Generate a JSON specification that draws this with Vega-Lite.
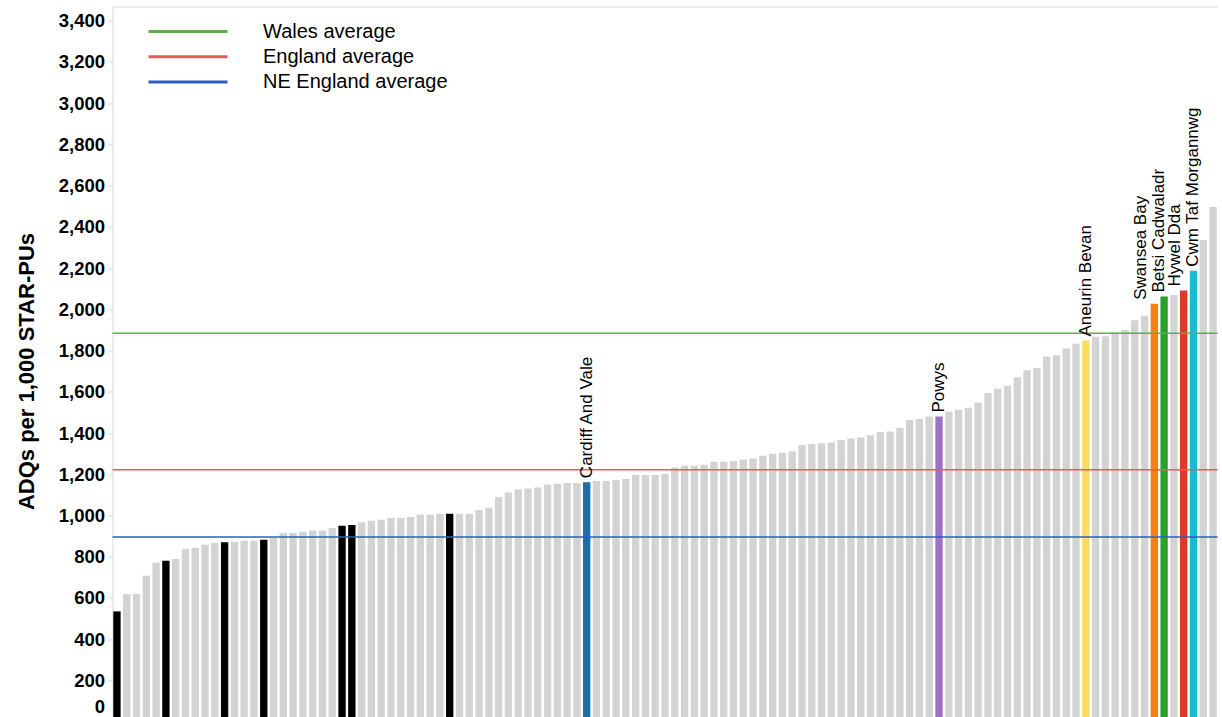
{
  "$schema": "https://vega.github.io/schema/vega-lite/v6.json",
  "width": 1105,
  "height": 715.2,
  "autosize": "none",
  "padding": {"left": 112.5, "top": 6.5, "right": 4.5, "bottom": -4.7},
  "background": "white",
  "config": {"view": {"stroke": null}, "font": "Liberation Sans"},
  "datasets": {
    "bars": [
      {"rank": 1, "name": "NE England CCG", "group": "NE England", "adq": 535},
      {"rank": 2, "name": "CCG", "group": "England", "adq": 619},
      {"rank": 3, "name": "CCG", "group": "England", "adq": 619},
      {"rank": 4, "name": "CCG", "group": "England", "adq": 708},
      {"rank": 5, "name": "CCG", "group": "England", "adq": 771},
      {"rank": 6, "name": "NE England CCG", "group": "NE England", "adq": 781},
      {"rank": 7, "name": "CCG", "group": "England", "adq": 789},
      {"rank": 8, "name": "CCG", "group": "England", "adq": 839},
      {"rank": 9, "name": "CCG", "group": "England", "adq": 844},
      {"rank": 10, "name": "CCG", "group": "England", "adq": 858},
      {"rank": 11, "name": "CCG", "group": "England", "adq": 868},
      {"rank": 12, "name": "NE England CCG", "group": "NE England", "adq": 870},
      {"rank": 13, "name": "CCG", "group": "England", "adq": 873},
      {"rank": 14, "name": "CCG", "group": "England", "adq": 878},
      {"rank": 15, "name": "CCG", "group": "England", "adq": 878},
      {"rank": 16, "name": "NE England CCG", "group": "NE England", "adq": 883},
      {"rank": 17, "name": "CCG", "group": "England", "adq": 891},
      {"rank": 18, "name": "CCG", "group": "England", "adq": 915},
      {"rank": 19, "name": "CCG", "group": "England", "adq": 915},
      {"rank": 20, "name": "CCG", "group": "England", "adq": 921},
      {"rank": 21, "name": "CCG", "group": "England", "adq": 928},
      {"rank": 22, "name": "CCG", "group": "England", "adq": 928},
      {"rank": 23, "name": "CCG", "group": "England", "adq": 939},
      {"rank": 24, "name": "NE England CCG", "group": "NE England", "adq": 950},
      {"rank": 25, "name": "NE England CCG", "group": "NE England", "adq": 954},
      {"rank": 26, "name": "CCG", "group": "England", "adq": 967},
      {"rank": 27, "name": "CCG", "group": "England", "adq": 975},
      {"rank": 28, "name": "CCG", "group": "England", "adq": 980},
      {"rank": 29, "name": "CCG", "group": "England", "adq": 988},
      {"rank": 30, "name": "CCG", "group": "England", "adq": 988},
      {"rank": 31, "name": "CCG", "group": "England", "adq": 993},
      {"rank": 32, "name": "CCG", "group": "England", "adq": 1004},
      {"rank": 33, "name": "CCG", "group": "England", "adq": 1004},
      {"rank": 34, "name": "CCG", "group": "England", "adq": 1009},
      {"rank": 35, "name": "NE England CCG", "group": "NE England", "adq": 1009},
      {"rank": 36, "name": "CCG", "group": "England", "adq": 1009},
      {"rank": 37, "name": "CCG", "group": "England", "adq": 1009},
      {"rank": 38, "name": "CCG", "group": "England", "adq": 1027},
      {"rank": 39, "name": "CCG", "group": "England", "adq": 1038},
      {"rank": 40, "name": "CCG", "group": "England", "adq": 1090},
      {"rank": 41, "name": "CCG", "group": "England", "adq": 1112},
      {"rank": 42, "name": "CCG", "group": "England", "adq": 1128},
      {"rank": 43, "name": "CCG", "group": "England", "adq": 1131},
      {"rank": 44, "name": "CCG", "group": "England", "adq": 1136},
      {"rank": 45, "name": "CCG", "group": "England", "adq": 1149},
      {"rank": 46, "name": "CCG", "group": "England", "adq": 1154},
      {"rank": 47, "name": "CCG", "group": "England", "adq": 1158},
      {"rank": 48, "name": "CCG", "group": "England", "adq": 1158},
      {"rank": 49, "name": "Cardiff And Vale", "group": "Cardiff And Vale", "adq": 1162},
      {"rank": 50, "name": "CCG", "group": "England", "adq": 1167},
      {"rank": 51, "name": "CCG", "group": "England", "adq": 1167},
      {"rank": 52, "name": "CCG", "group": "England", "adq": 1172},
      {"rank": 53, "name": "CCG", "group": "England", "adq": 1177},
      {"rank": 54, "name": "CCG", "group": "England", "adq": 1196},
      {"rank": 55, "name": "CCG", "group": "England", "adq": 1196},
      {"rank": 56, "name": "CCG", "group": "England", "adq": 1196},
      {"rank": 57, "name": "CCG", "group": "England", "adq": 1201},
      {"rank": 58, "name": "CCG", "group": "England", "adq": 1233},
      {"rank": 59, "name": "CCG", "group": "England", "adq": 1241},
      {"rank": 60, "name": "CCG", "group": "England", "adq": 1241},
      {"rank": 61, "name": "CCG", "group": "England", "adq": 1246},
      {"rank": 62, "name": "CCG", "group": "England", "adq": 1261},
      {"rank": 63, "name": "CCG", "group": "England", "adq": 1261},
      {"rank": 64, "name": "CCG", "group": "England", "adq": 1264},
      {"rank": 65, "name": "CCG", "group": "England", "adq": 1272},
      {"rank": 66, "name": "CCG", "group": "England", "adq": 1277},
      {"rank": 67, "name": "CCG", "group": "England", "adq": 1290},
      {"rank": 68, "name": "CCG", "group": "England", "adq": 1300},
      {"rank": 69, "name": "CCG", "group": "England", "adq": 1304},
      {"rank": 70, "name": "CCG", "group": "England", "adq": 1311},
      {"rank": 71, "name": "CCG", "group": "England", "adq": 1342},
      {"rank": 72, "name": "CCG", "group": "England", "adq": 1347},
      {"rank": 73, "name": "CCG", "group": "England", "adq": 1350},
      {"rank": 74, "name": "CCG", "group": "England", "adq": 1354},
      {"rank": 75, "name": "CCG", "group": "England", "adq": 1366},
      {"rank": 76, "name": "CCG", "group": "England", "adq": 1374},
      {"rank": 77, "name": "CCG", "group": "England", "adq": 1379},
      {"rank": 78, "name": "CCG", "group": "England", "adq": 1390},
      {"rank": 79, "name": "CCG", "group": "England", "adq": 1405},
      {"rank": 80, "name": "CCG", "group": "England", "adq": 1408},
      {"rank": 81, "name": "CCG", "group": "England", "adq": 1426},
      {"rank": 82, "name": "CCG", "group": "England", "adq": 1463},
      {"rank": 83, "name": "CCG", "group": "England", "adq": 1468},
      {"rank": 84, "name": "CCG", "group": "England", "adq": 1480},
      {"rank": 85, "name": "Powys", "group": "Powys", "adq": 1480},
      {"rank": 86, "name": "CCG", "group": "England", "adq": 1505},
      {"rank": 87, "name": "CCG", "group": "England", "adq": 1513},
      {"rank": 88, "name": "CCG", "group": "England", "adq": 1523},
      {"rank": 89, "name": "CCG", "group": "England", "adq": 1547},
      {"rank": 90, "name": "CCG", "group": "England", "adq": 1594},
      {"rank": 91, "name": "CCG", "group": "England", "adq": 1615},
      {"rank": 92, "name": "CCG", "group": "England", "adq": 1629},
      {"rank": 93, "name": "CCG", "group": "England", "adq": 1671},
      {"rank": 94, "name": "CCG", "group": "England", "adq": 1705},
      {"rank": 95, "name": "CCG", "group": "England", "adq": 1716},
      {"rank": 96, "name": "CCG", "group": "England", "adq": 1771},
      {"rank": 97, "name": "CCG", "group": "England", "adq": 1778},
      {"rank": 98, "name": "CCG", "group": "England", "adq": 1810},
      {"rank": 99, "name": "CCG", "group": "England", "adq": 1833},
      {"rank": 100, "name": "Aneurin Bevan", "group": "Aneurin Bevan", "adq": 1849},
      {"rank": 101, "name": "CCG", "group": "England", "adq": 1867},
      {"rank": 102, "name": "CCG", "group": "England", "adq": 1870},
      {"rank": 103, "name": "CCG", "group": "England", "adq": 1886},
      {"rank": 104, "name": "CCG", "group": "England", "adq": 1901},
      {"rank": 105, "name": "CCG", "group": "England", "adq": 1947},
      {"rank": 106, "name": "CCG", "group": "England", "adq": 1969},
      {"rank": 107, "name": "Swansea Bay", "group": "Swansea Bay", "adq": 2027},
      {"rank": 108, "name": "Betsi Cadwaladr", "group": "Betsi Cadwaladr", "adq": 2062},
      {"rank": 109, "name": "CCG", "group": "England", "adq": 2070},
      {"rank": 110, "name": "Hywel Dda", "group": "Hywel Dda", "adq": 2091},
      {"rank": 111, "name": "Cwm Taf Morgannwg", "group": "Cwm Taf Morgannwg", "adq": 2187},
      {"rank": 112, "name": "CCG", "group": "England", "adq": 2337},
      {"rank": 113, "name": "CCG", "group": "England", "adq": 2497}
    ],
    "avgs": [
      {"label": "Wales average", "adq": 1884},
      {"label": "England average", "adq": 1222},
      {"label": "NE England average", "adq": 896}
    ]
  },
  "encoding": {
    "y": {
      "field": "adq",
      "type": "quantitative",
      "scale": {"domain": [0, 3469], "nice": false, "zero": true},
      "axis": {
        "values": [0, 200, 400, 600, 800, 1000, 1200, 1400, 1600, 1800, 2000, 2200, 2400, 2600, 2800, 3000, 3200, 3400],
        "format": ",.0f",
        "grid": false,
        "labelFont": "Liberation Sans",
        "labelFontWeight": "bold",
        "labelFontSize": 18.5,
        "labelColor": "#000000",
        "labelPadding": 3,
        "labelOverlap": false,
        "labelFlush": 6,
        "labelFlushOffset": -5,
        "tickColor": "#d9d9d9",
        "tickSize": 5,
        "domainColor": "#d9d9d9",
        "title": "ADQs per 1,000 STAR-PUs",
        "titleFont": "Liberation Sans",
        "titleFontWeight": "bold",
        "titleFontSize": 22,
        "titleColor": "#000000",
        "titleAngle": -90,
        "titleAlign": "center",
        "titleBaseline": "alphabetic",
        "titleX": -79,
        "titleY": 364.5
      }
    }
  },
  "layer": [
    {
      "data": {"name": "bars"},
      "mark": {"type": "bar"},
      "encoding": {
        "x": {
          "field": "rank",
          "type": "ordinal",
          "scale": {"paddingInner": 0.25, "paddingOuter": 0.08},
          "axis": {"orient": "top", "labels": false, "ticks": false, "title": null, "domainColor": "#d9d9d9"}
        },
        "color": {
          "field": "group",
          "type": "nominal",
          "scale": {
            "domain": ["England", "NE England", "Cardiff And Vale", "Powys", "Aneurin Bevan", "Swansea Bay", "Betsi Cadwaladr", "Hywel Dda", "Cwm Taf Morgannwg"],
            "range": ["#d3d3d3", "#000000", "#1a6eaa", "#a070c6", "#ffd966", "#ff7f0e", "#2ca02c", "#e0392a", "#17bccf"]
          },
          "legend": null
        }
      }
    },
    {
      "data": {"name": "avgs"},
      "mark": {"type": "rule", "strokeWidth": 1.5},
      "encoding": {
        "color": {
          "field": "label",
          "type": "nominal",
          "scale": {
            "domain": ["Wales average", "England average", "NE England average"],
            "range": ["#62a856", "#e35b5b", "#2b5cc3"]
          },
          "legend": {
            "orient": "none",
            "legendX": 65.5,
            "legendY": 15,
            "title": null,
            "padding": 0,
            "symbolType": "M-39.5,0H39.5",
            "symbolSize": 4,
            "symbolStrokeWidth": 3,
            "labelFont": "Liberation Sans",
            "labelFontSize": 20,
            "labelColor": "#000000",
            "labelOffset": 65,
            "rowPadding": 5.3,
            "labelLimit": 400,
            "encode": {
              "symbols": {
                "update": {
                  "stroke": {"signal": "datum.value == 'Wales average' ? '#20b04b' : datum.value == 'England average' ? '#f51515' : '#1070c4'"}
                }
              }
            }
          }
        }
      }
    },
    {
      "data": {"name": "bars"},
      "transform": [{"filter": {"field": "name", "oneOf": ["Cardiff And Vale", "Powys", "Aneurin Bevan", "Cwm Taf Morgannwg"]}}],
      "mark": {"type": "text", "angle": 270, "align": "left", "baseline": "middle", "dx": 4, "font": "Liberation Sans", "fontSize": 17, "color": "#000000"},
      "encoding": {
        "x": {
          "field": "rank",
          "type": "ordinal",
          "scale": {"paddingInner": 0.25, "paddingOuter": 0.08},
          "axis": {"orient": "top", "labels": false, "ticks": false, "title": null, "domainColor": "#d9d9d9"}
        },
        "text": {"field": "name", "type": "nominal"}
      }
    },
    {
      "data": {"name": "bars"},
      "transform": [{"filter": {"field": "name", "oneOf": ["Hywel Dda"]}}],
      "mark": {"type": "text", "angle": 270, "align": "left", "baseline": "bottom", "dx": 4, "font": "Liberation Sans", "fontSize": 17, "color": "#000000"},
      "encoding": {
        "x": {
          "field": "rank",
          "type": "ordinal",
          "scale": {"paddingInner": 0.25, "paddingOuter": 0.08},
          "axis": {"orient": "top", "labels": false, "ticks": false, "title": null, "domainColor": "#d9d9d9"}
        },
        "text": {"field": "name", "type": "nominal"}
      }
    },
    {
      "data": {"name": "bars"},
      "transform": [{"filter": {"field": "name", "oneOf": ["Swansea Bay"]}}],
      "mark": {"type": "text", "angle": 270, "align": "left", "baseline": "bottom", "dx": 4, "dy": -4, "font": "Liberation Sans", "fontSize": 17, "color": "#000000"},
      "encoding": {
        "x": {
          "field": "rank",
          "type": "ordinal",
          "scale": {"paddingInner": 0.25, "paddingOuter": 0.08},
          "axis": {"orient": "top", "labels": false, "ticks": false, "title": null, "domainColor": "#d9d9d9"}
        },
        "text": {"field": "name", "type": "nominal"}
      }
    },
    {
      "data": {"name": "bars"},
      "transform": [{"filter": {"field": "name", "oneOf": ["Betsi Cadwaladr"]}}],
      "mark": {"type": "text", "angle": 270, "align": "left", "baseline": "alphabetic", "dx": 4, "font": "Liberation Sans", "fontSize": 17, "color": "#000000"},
      "encoding": {
        "x": {
          "field": "rank",
          "type": "ordinal",
          "scale": {"paddingInner": 0.25, "paddingOuter": 0.08},
          "axis": {"orient": "top", "labels": false, "ticks": false, "title": null, "domainColor": "#d9d9d9"}
        },
        "text": {"field": "name", "type": "nominal"}
      }
    }
  ],
  "resolve": {"scale": {"color": "independent"}}
}
